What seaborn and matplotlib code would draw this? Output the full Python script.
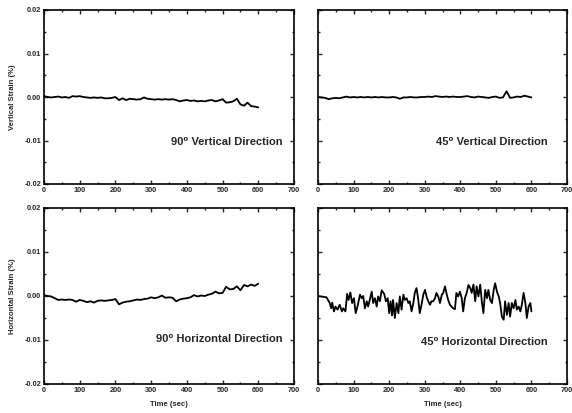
import numpy as np
import pandas as pd
import matplotlib
matplotlib.use("Agg")
import matplotlib.pyplot as plt
from matplotlib.ticker import MultipleLocator, FixedLocator
import seaborn as sns

# ---------------- data ----------------
time_10s = list(range(0, 601, 10))

strain_90_vertical = [
    0.0002, 0.0000, -0.0001, 0.0000, 0.0001, -0.0001, 0.0000, -0.0002, 0.0002, 0.0001,
    0.0002, 0.0000, -0.0001, -0.0002, -0.0001, -0.0002, -0.0001, -0.0003, -0.0003, -0.0002,
    0.0000, -0.0007, -0.0003, -0.0007, -0.0004, -0.0005, -0.0006, -0.0005, -0.0001, -0.0004,
    -0.0005, -0.0006, -0.0005, -0.0006, -0.0005, -0.0006, -0.0005, -0.0007, -0.0010, -0.0008,
    -0.0007, -0.0009, -0.0008, -0.0010, -0.0009, -0.0010, -0.0008, -0.0007, -0.0010, -0.0008,
    -0.0005, -0.0013, -0.0012, -0.0010, -0.0004, -0.0017, -0.0020, -0.0013, -0.0021, -0.0022,
    -0.0024]

strain_45_vertical = [
    0.0000, -0.0001, -0.0002, -0.0005, -0.0003, -0.0002, -0.0003, -0.0001, 0.0001, -0.0001,
    0.0000, -0.0001, 0.0000, -0.0001, 0.0000, -0.0001, 0.0000, -0.0001, 0.0000, -0.0001,
    -0.0001, 0.0000, -0.0001, -0.0004, -0.0001, -0.0001, 0.0000, -0.0001, -0.0001, 0.0000,
    0.0000, 0.0001, 0.0000, 0.0002, 0.0001, 0.0000, 0.0001, 0.0000, 0.0001, 0.0000,
    0.0000, 0.0001, 0.0002, 0.0000, -0.0001, 0.0001, 0.0000, -0.0001, -0.0002, 0.0000,
    0.0001, -0.0002, -0.0001, 0.0013, -0.0002, -0.0001, 0.0001, 0.0000, 0.0003, 0.0001,
    -0.0001]

strain_90_horizontal = [
    0.0002, 0.0000, -0.0001, -0.0005, -0.0009, -0.0008, -0.0009, -0.0008, -0.0009, -0.0013,
    -0.0009, -0.0011, -0.0014, -0.0012, -0.0015, -0.0011, -0.0010, -0.0011, -0.0010, -0.0009,
    -0.0007, -0.0019, -0.0015, -0.0013, -0.0012, -0.0010, -0.0008, -0.0009, -0.0007, -0.0006,
    -0.0003, -0.0005, -0.0003, 0.0001, -0.0004, -0.0003, -0.0004, -0.0012, -0.0008, -0.0006,
    -0.0005, -0.0003, 0.0002, -0.0001, 0.0001, 0.0000, 0.0003, 0.0005, 0.0010, 0.0006,
    0.0007, 0.0021, 0.0015, 0.0016, 0.0022, 0.0013, 0.0025, 0.0022, 0.0026, 0.0023,
    0.0028]

time_45_horizontal = [
    0, 24, 33, 37, 40, 45, 49, 55, 61, 67, 71, 77, 82, 86, 91, 96, 101, 106, 111, 118,
    123, 127, 132, 137, 141, 151, 155, 160, 165, 169, 174, 179, 186, 191, 196, 200, 204, 208, 211, 216,
    221, 226, 230, 235, 240, 244, 249, 254, 258, 263, 268, 272, 277, 282, 286, 291, 296, 301, 305, 310,
    315, 319, 324, 329, 333, 338, 343, 348, 352, 357, 362, 366, 371, 380, 385, 389, 394, 399, 404, 408,
    413, 418, 423, 428, 432, 437, 442, 446, 451, 456, 461, 465, 470, 475, 479, 484, 489, 494, 498, 503,
    508, 512, 517, 522, 526, 531, 536, 540, 545, 550, 555, 559, 564, 569, 573, 578, 583, 587, 592, 597,
    600]
strain_45_horizontal = [
    0.0000, -0.0003, -0.0016, -0.0028, -0.0015, -0.0035, -0.0024, -0.0031, -0.0020, -0.0035,
    -0.0028, -0.0035, 0.0005, -0.0009, 0.0008, -0.0016, -0.0005, -0.0039, -0.0024, 0.0003,
    -0.0005, 0.0000, -0.0028, -0.0012, -0.0024, 0.0010, -0.0016, -0.0005, -0.0024, -0.0001,
    -0.0012, 0.0013, 0.0005, -0.0012, -0.0005, -0.0039, -0.0012, -0.0044, -0.0009, -0.0050,
    -0.0016, -0.0039, -0.0001, -0.0031, 0.0003, -0.0009, -0.0005, -0.0016, -0.0012, -0.0035,
    -0.0016, 0.0007, 0.0018, -0.0009, -0.0039, -0.0020, 0.0003, 0.0014, -0.0001, -0.0012,
    -0.0020, -0.0012, -0.0012, -0.0005, 0.0007, -0.0001, -0.0016, 0.0003, 0.0007, 0.0022,
    0.0003, -0.0009, -0.0020, -0.0028, -0.0030, 0.0007, -0.0001, 0.0010, -0.0005, -0.0035,
    -0.0005, 0.0007, 0.0025, 0.0018, 0.0007, 0.0026, -0.0012, 0.0022, -0.0001, 0.0026,
    -0.0016, -0.0039, 0.0014, -0.0005, 0.0014, -0.0009, -0.0016, 0.0014, 0.0029, 0.0010,
    -0.0001, -0.0016, -0.0047, -0.0054, -0.0012, -0.0043, -0.0016, -0.0047, -0.0016, -0.0028,
    -0.0009, -0.0031, -0.0024, -0.0035, -0.0020, 0.0007, -0.0016, -0.0050, -0.0024, -0.0016,
    -0.0035]

x_ticks = [0, 100, 200, 300, 400, 500, 600, 700]
x_tick_labels = ["0", "100", "200", "300", "400", "500", "600", "700"]
y_ticks = [-0.02, -0.01, 0.00, 0.01, 0.02]
y_tick_labels = ["-0.02", "-0.01", "0.00", "0.01", "0.02"]

panel_titles = ["90\u2070 Vertical Direction", "45\u2070 Vertical Direction",
                "90\u2070 Horizontal Direction", "45\u2070 Horizontal Direction"]
y_labels = ["Vertical Strain (%)", "Horizontal Strain (%)"]
x_label = "Time (sec)"

# ---------------- style ----------------
sns.set_style("ticks")
plt.rcParams["font.family"] = ["Liberation Sans", "DejaVu Sans"]
plt.rcParams["font.weight"] = "bold"

W, H = 572, 413
fig = plt.figure(figsize=(W / 100, H / 100), dpi=100)

def frac(l, t, r, b):
    return [l / W, 1 - b / H, (r - l) / W, (b - t) / H]

rects = [frac(44, 10, 294, 184), frac(318, 10, 567, 184),
         frac(44, 208, 294, 384), frac(318, 208, 567, 384)]

series = [
    (time_10s, strain_90_vertical),
    (time_10s, strain_45_vertical),
    (time_10s, strain_90_horizontal),
    (time_45_horizontal, strain_45_horizontal),
]
text_pos = [(669, -0.0103), (647, -0.0103), (669, -0.0097), (647, -0.0104)]

for i, (rect, (t, v)) in enumerate(zip(rects, series)):
    ax = fig.add_axes(rect)
    df = pd.DataFrame({"t": t, "v": v})
    sns.lineplot(data=df, x="t", y="v", ax=ax, color="black", linewidth=1.3,
                 estimator=None, sort=False)
    ax.set_xlim(0, 700)
    ax.set_ylim(-0.02, 0.02)
    ax.xaxis.set_major_locator(FixedLocator(x_ticks))
    ax.yaxis.set_major_locator(FixedLocator(y_ticks))
    ax.xaxis.set_minor_locator(MultipleLocator(50))
    ax.yaxis.set_minor_locator(MultipleLocator(0.005))
    ax.set_xticklabels(x_tick_labels)
    if i % 2 == 0:
        ax.set_yticklabels(y_tick_labels)
    else:
        ax.set_yticklabels([])
    ax.tick_params(which="both", direction="in", top=True, right=True,
                   labelsize=5.3, width=1.0, pad=2)
    ax.tick_params(which="major", length=3)
    ax.tick_params(which="minor", length=1.5)
    for lab in ax.get_xticklabels() + ax.get_yticklabels():
        lab.set_fontweight("bold")
    for s in ax.spines.values():
        s.set_linewidth(1.2)
        s.set_color("black")
    ax.set_xlabel(x_label if i >= 2 else "", fontsize=5.5, fontweight="bold", labelpad=5)
    if i % 2 == 0:
        ax.set_ylabel(y_labels[i // 2], fontsize=5.5, fontweight="bold", labelpad=6)
    else:
        ax.set_ylabel("")
    ax.text(text_pos[i][0], text_pos[i][1], panel_titles[i], ha="right", va="center",
            fontsize=8, fontweight="bold")

fig.savefig("out.png", dpi=100)
